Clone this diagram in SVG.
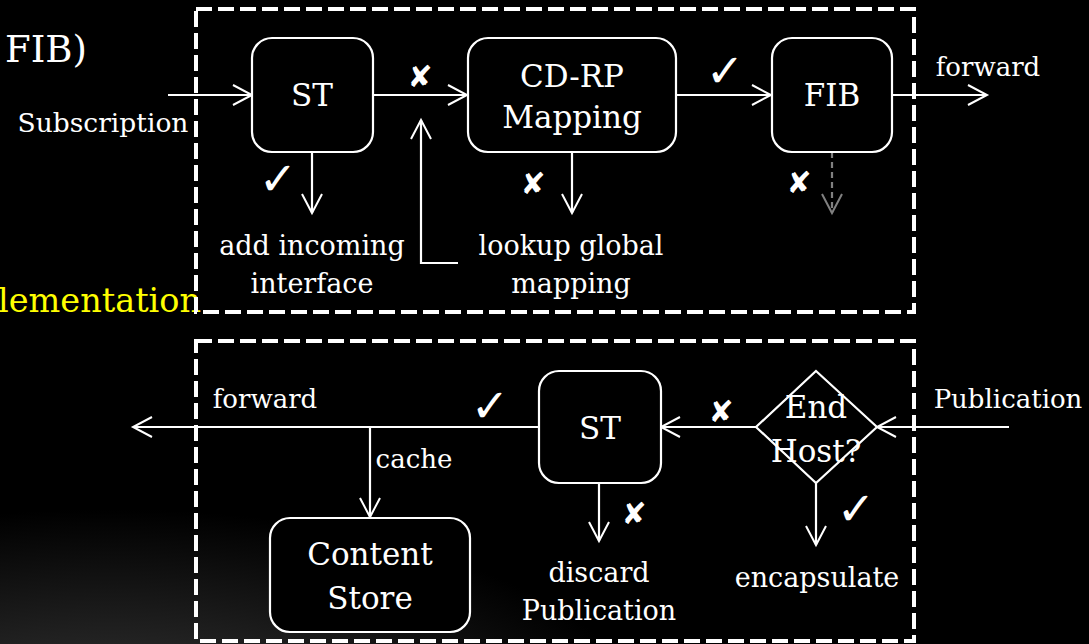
<svg xmlns="http://www.w3.org/2000/svg" width="1089" height="644" viewBox="0 0 1089 644">
<defs>
<radialGradient id="glow" cx="110" cy="740" r="420" gradientUnits="userSpaceOnUse" gradientTransform="translate(110 740) scale(1.3 0.55) translate(-110 -740)">
<stop offset="0" stop-color="#3a3a3a"/>
<stop offset="0.5" stop-color="#1e1e1e"/>
<stop offset="1" stop-color="#000"/>
</radialGradient>
<marker id="ah" viewBox="-22 -12 24 24" refX="0" refY="0" markerWidth="24" markerHeight="24" markerUnits="userSpaceOnUse" orient="auto" overflow="visible">
<path d="M-19,-10 L0,0 L-19,10" fill="none" stroke="#fff" stroke-width="2"/>
</marker>
<marker id="ahg" viewBox="-22 -12 24 24" refX="0" refY="0" markerWidth="24" markerHeight="24" markerUnits="userSpaceOnUse" orient="auto" overflow="visible">
<path d="M-19,-10 L0,0 L-19,10" fill="none" stroke="#808080" stroke-width="2"/>
</marker>
</defs>
<style>
.t{font-family:"DejaVu Serif","Liberation Serif",serif;fill:#fff;text-anchor:middle}
.n{font-size:31px}
.l{font-size:27px}
.box{fill:#000;stroke:#fff;stroke-width:2.2}
.frame{fill:none;stroke:#fff;stroke-width:4;stroke-dasharray:16 6}
.c{fill:none;stroke:#fff;stroke-width:2.2}
.g{fill:none;stroke:#808080;stroke-width:2.2;stroke-dasharray:6 4}
.x{font-family:"DejaVu Sans",sans-serif;font-size:30px;fill:#fff;text-anchor:middle;font-weight:bold}
.k{font-family:"DejaVu Sans",sans-serif;font-size:46px;fill:#fff;text-anchor:middle}
</style>
<rect width="1089" height="644" fill="#000"/>
<rect width="1089" height="644" fill="url(#glow)"/>
<g id="background-text">
<text class="t" x="5" y="62" style="font-size:37px;text-anchor:start">FIB)</text>
<text class="t" x="-2" y="312" style="font-size:33.5px;text-anchor:start;fill:#ffff00">lementation</text>
</g>
<g id="frames">
<rect class="frame" x="196" y="9" width="718" height="303"/>
<rect class="frame" x="196" y="341" width="718" height="300"/>
</g>
<g id="connectors">
<line class="c" x1="168" y1="95" x2="252" y2="95" marker-end="url(#ah)"/>
<line class="c" x1="373" y1="95" x2="467" y2="95" marker-end="url(#ah)"/>
<line class="c" x1="676" y1="95" x2="771" y2="95" marker-end="url(#ah)"/>
<line class="c" x1="892" y1="95" x2="987" y2="95" marker-end="url(#ah)"/>
<polyline class="c" points="458,263 421,263 421,120" marker-end="url(#ah)"/>
<line class="c" x1="312" y1="152" x2="312" y2="213" marker-end="url(#ah)"/>
<line class="c" x1="572" y1="152" x2="572" y2="213" marker-end="url(#ah)"/>
<line class="g" x1="832" y1="152" x2="832" y2="213" marker-end="url(#ahg)"/>
<line class="c" x1="1009" y1="427" x2="877" y2="427" marker-end="url(#ah)"/>
<line class="c" x1="756" y1="427" x2="661" y2="427" marker-end="url(#ah)"/>
<line class="c" x1="538" y1="427" x2="133" y2="427" marker-end="url(#ah)"/>
<line class="c" x1="370" y1="427" x2="370" y2="517" marker-end="url(#ah)"/>
<line class="c" x1="599" y1="483" x2="599" y2="541" marker-end="url(#ah)"/>
<line class="c" x1="816" y1="483" x2="816" y2="545" marker-end="url(#ah)"/>
</g>
<g id="marks">
<text class="x" x="420" y="87">✘</text>
<text class="x" x="533" y="194">✘</text>
<text class="x" x="799" y="193">✘</text>
<text class="x" x="634" y="524">✘</text>
<text class="x" x="721" y="422">✘</text>
<text class="k" x="278" y="195">✓</text>
<text class="k" x="725" y="87">✓</text>
<text class="k" x="490" y="422">✓</text>
<text class="k" x="856" y="525">✓</text>
</g>
<g id="node-st-top">
<rect class="box" x="252" y="38" width="121" height="114" rx="20"/>
<text class="t n" x="312" y="106">ST</text>
</g>
<g id="node-cdrp">
<rect class="box" x="468" y="38" width="208" height="114" rx="20"/>
<text class="t n" x="572" y="87">CD-RP</text>
<text class="t n" x="572" y="128">Mapping</text>
</g>
<g id="node-fib">
<rect class="box" x="772" y="38" width="120" height="114" rx="20"/>
<text class="t n" x="832" y="106">FIB</text>
</g>
<g id="node-st-bottom">
<rect class="box" x="539" y="371" width="122" height="112" rx="20"/>
<text class="t n" x="600" y="439">ST</text>
</g>
<g id="node-endhost">
<polygon points="816,371 877,427 816,483 756,427" fill="none" stroke="#fff" stroke-width="2.2"/>
<text class="t n" x="816" y="418">End</text>
<text class="t n" x="816" y="462">Host?</text>
</g>
<g id="node-content-store">
<rect class="box" x="270" y="518" width="200" height="114" rx="20"/>
<text class="t n" x="370" y="565">Content</text>
<text class="t n" x="370" y="609">Store</text>
</g>
<g id="labels">
<text class="t" x="103" y="132" style="font-size:26.5px">Subscription</text>
<text class="t" x="988" y="76" style="font-size:26px">forward</text>
<text class="t l" x="312" y="255">add incoming</text>
<text class="t l" x="312" y="293">interface</text>
<text class="t l" x="571" y="255">lookup global</text>
<text class="t l" x="571" y="293">mapping</text>
<text class="t" x="265" y="408" style="font-size:26px">forward</text>
<text class="t" x="414" y="468" style="font-size:26px">cache</text>
<text class="t l" x="599" y="582">discard</text>
<text class="t l" x="599" y="620">Publication</text>
<text class="t l" x="817" y="587">encapsulate</text>
<text class="t" x="1008" y="408" style="font-size:26px">Publication</text>
</g>
</svg>
